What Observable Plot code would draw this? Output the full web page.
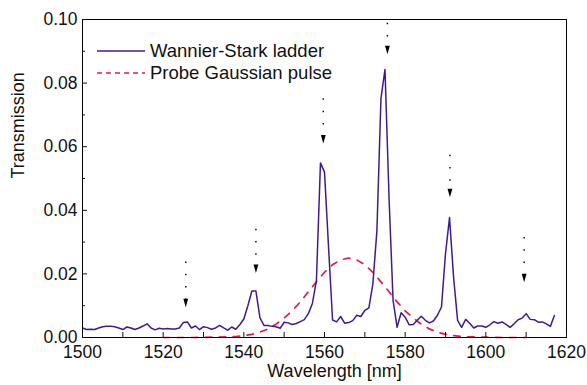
<!DOCTYPE html>
<html><head><meta charset="utf-8">
<script src="https://cdn.jsdelivr.net/npm/d3@7"></script>
<script src="https://cdn.jsdelivr.net/npm/@observablehq/plot@0.6"></script>
<style>
body{margin:0;background:#fff;}
#wrap{position:relative;width:587px;height:385px;font-family:"Liberation Sans",Arial,sans-serif;}
.leg{position:absolute;left:97px;height:20px;font-size:18.5px;color:#111;display:flex;align-items:center;white-space:nowrap;}
.leg svg{margin-right:5px;}
</style></head><body><div id="wrap"></div>
<script>
// Wannier-Stark ladder transmission (one sample per nm)
const wavelength = [1500,1501,1502,1503,1504,1505,1506,1507,1508,1509,1510,1511,1512,1513,1514,1515,1516,1517,1518,1519,
1520,1521,1522,1523,1524,1525,1526,1527,1528,1529,1530,1531,1532,1533,1534,1535,1536,1537,1538,1539,
1540,1541,1542,1543,1544,1545,1546,1547,1548,1549,1550,1551,1552,1553,1554,1555,1556,1557,1558,1559,
1560,1561,1562,1563,1564,1565,1566,1567,1568,1569,1570,1571,1572,1573,1574,1575,1576,1577,1578,1579,
1580,1581,1582,1583,1584,1585,1586,1587,1588,1589,1590,1591,1592,1593,1594,1595,1596,1597,1598,1599,
1600,1601,1602,1603,1604,1605,1606,1607,1608,1609,1610,1611,1612,1613,1614,1615,1616,1617];
const transmission = [.0030,.0025,.0026,.0025,.0030,.0034,.0035,.0035,.0034,.0030,.0025,.0033,.0030,.0025,.0030,.0036,.0043,.0030,.0024,.0029,
.0027,.0028,.0027,.0027,.0030,.0047,.0049,.0030,.0036,.0025,.0034,.0031,.0026,.0030,.0038,.0030,.0023,.0033,.0026,.0040,
.0058,.0100,.0146,.0146,.0062,.0038,.0038,.0035,.0034,.0029,.0048,.0046,.0041,.0044,.0050,.0056,.0075,.0107,.0180,.0549,
.0520,.0285,.0055,.0049,.0066,.0045,.0047,.0053,.0070,.0066,.0085,.0093,.0169,.0337,.0752,.0843,.0440,.0117,.0032,.0078,
.0064,.0040,.0041,.0054,.0067,.0054,.0046,.0052,.0070,.0096,.0264,.0377,.0190,.0054,.0032,.0057,.0045,.0030,.0036,.0036,
.0032,.0040,.0050,.0045,.0049,.0041,.0032,.0043,.0056,.0061,.0075,.0057,.0056,.0048,.0049,.0043,.0035,.0069];

// Probe Gaussian pulse
const pulseWavelength = [1520,1524,1528,1532,1536,1538,1540,1542,1544,1546,1548,1550,1552,1554,1556,1558,1560,1562,1564,1566,
1568,1570,1572,1574,1576,1578,1580,1582,1584,1586,1588,1590,1592,1594,1596,1600,1604,1610];
const pulse = [0,0,0,.0001,.0002,.0003,.0006,.0010,.0017,.0027,.0042,.0061,.0084,.0112,.0144,.0175,.0205,.0229,.0244,.0250,
.0244,.0229,.0205,.0175,.0144,.0112,.0084,.0061,.0042,.0027,.0017,.0010,.0006,.0003,.0002,.0001,0,0];

// Dotted arrows marking the ladder resonances
const arrowX   = [1525.6, 1543.0, 1559.7, 1575.6, 1591.1, 1609.5];
const arrowTop = [.0239, .0342, .0752, .0990, .0575, .0316];
const arrowTip = [.0095, .0203, .0610, .0891, .0441, .0174];

const xMajor = [1500,1520,1540,1560,1580,1600,1620];
const xMinor = [1510,1530,1550,1570,1590,1610];
const yMajor = [0,0.02,0.04,0.06,0.08,0.10];
const yMinor = [0.01,0.03,0.05,0.07,0.09];

const series = wavelength.map((w,i)=>({w, t: transmission[i]}));
const gauss = pulseWavelength.map((w,i)=>({w, t: pulse[i]}));
const arrows = arrowX.map((x,i)=>({x, top: arrowTop[i], tip: arrowTip[i]}));

const purple = "#3f1c8e";
const red = "#e3194b";

const headSymbol = {draw(ctx){ ctx.moveTo(-2.4,-8.5); ctx.lineTo(2.4,-8.5); ctx.lineTo(0,0); ctx.closePath(); }};

const chart = Plot.plot({
  width: 587, height: 385,
  marginLeft: 82, marginRight: 21, marginTop: 19, marginBottom: 48,
  x: {domain: [1500,1620]},
  y: {domain: [0,0.1]},
  style: {fontFamily: '"Liberation Sans", Arial, sans-serif', fontSize: "17.5px", color: "#111", background: "white"},
  marks: [
    Plot.line(gauss, {x: "w", y: "t", stroke: red, strokeWidth: 1.7, strokeDasharray: "6.5,7.5"}),
    Plot.line(series, {x: "w", y: "t", stroke: purple, strokeWidth: 1.5}),
    Plot.link(arrows, {x1: "x", x2: "x", y1: "top", y2: "tip", stroke: "#000", strokeWidth: 1.4, strokeDasharray: "1.5,10.8"}),
    Plot.dot(arrows, {x: "x", y: "tip", symbol: headSymbol, fill: "#000", stroke: "none"}),
    Plot.frame({stroke: "#000", strokeWidth: 1}),
    Plot.axisY(yMajor, {tickSize: -5, tickPadding: 10, tickFormat: d3.format(".2f"), label: null, fontSize: 17.5}),
    Plot.axisY(yMinor, {tickSize: -3, tickFormat: () => "", label: null}),
    Plot.axisX(xMajor, {tickSize: -5, tickPadding: 13, tickFormat: d3.format("d"), label: null, fontSize: 17.5}),
    Plot.axisX(xMinor, {tickSize: -5, tickFormat: () => "", label: null}),
    Plot.text(["Transmission"], {frameAnchor: "left", dx: -64, rotate: -90, fontSize: 18}),
    Plot.text(["Wavelength [nm]"], {frameAnchor: "bottom", dy: 39, dx: 10, fontSize: 18})
  ]
});
const wrap = document.getElementById("wrap");
wrap.appendChild(chart);

const legendItems = [
  {label: "Wannier-Stark ladder", color: purple, dash: null, top: 41},
  {label: "Probe Gaussian pulse", color: red, dash: "5,4", top: 63}
];
for (const it of legendItems) {
  const d = document.createElement("div");
  d.className = "leg";
  d.style.top = it.top + "px";
  d.innerHTML = `<svg width="48" height="4"><line x1="0" x2="48" y1="2" y2="2" stroke="${it.color}" stroke-width="1.6" ${it.dash ? `stroke-dasharray="${it.dash}"` : ""}/></svg><span>${it.label}</span>`;
  wrap.appendChild(d);
}
</script></body></html>
